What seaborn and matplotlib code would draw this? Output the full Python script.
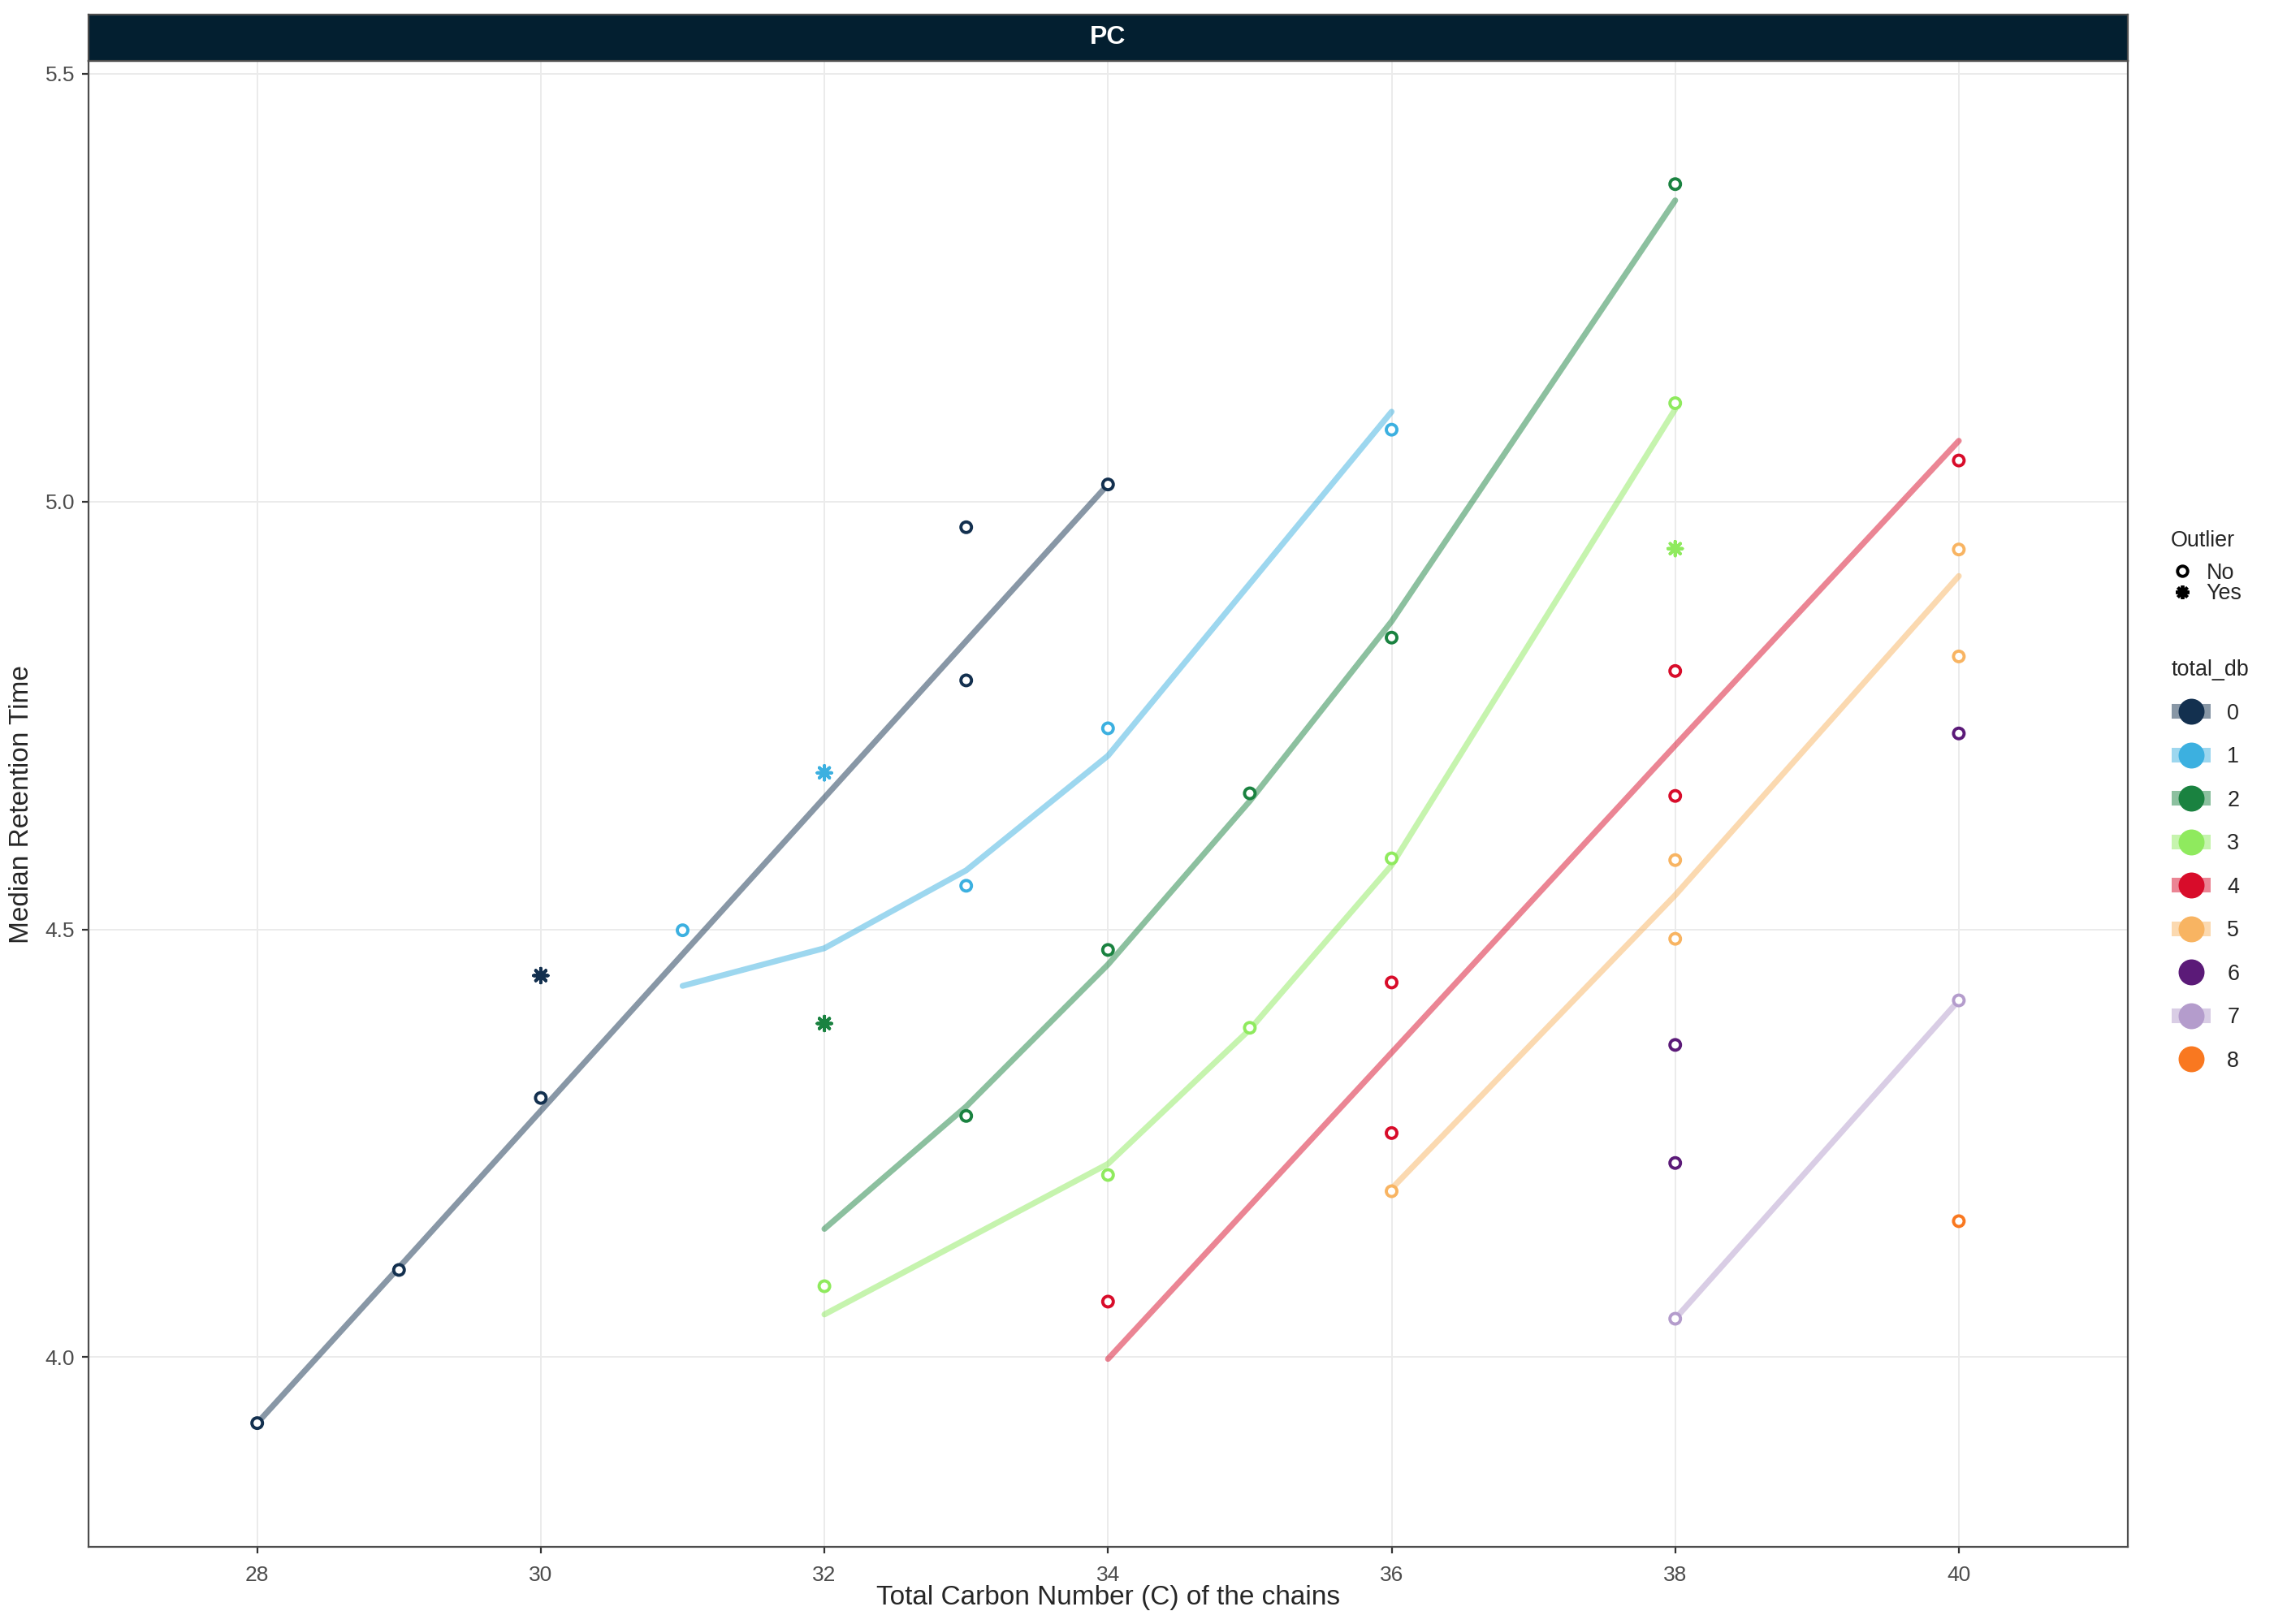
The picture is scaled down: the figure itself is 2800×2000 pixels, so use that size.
import numpy as np
import pandas as pd
import matplotlib
matplotlib.use("Agg")
import matplotlib.pyplot as plt
from matplotlib.lines import Line2D
from matplotlib.legend_handler import HandlerTuple
import seaborn as sns

# measured points (carbon number, double bonds, median RT, outlier flag)
pt_carbon = [28, 29, 30, 30, 33, 33, 34,
             31, 32, 33, 34, 36,
             32, 33, 34, 35, 36, 38,
             32, 34, 35, 36, 38, 38,
             34, 36, 36, 38, 38, 40,
             36, 38, 38, 40, 40,
             38, 38, 40,
             38, 40,
             40]
pt_db = [0] * 7 + [1] * 5 + [2] * 6 + [3] * 6 + [4] * 6 + [5] * 5 + [6] * 3 + [7] * 2 + [8]
pt_rt = [3.923, 4.102, 4.303, 4.446, 4.970, 4.791, 5.020,
         4.499, 4.683, 4.551, 4.735, 5.084,
         4.390, 4.282, 4.476, 4.659, 4.841, 5.371,
         4.083, 4.213, 4.385, 4.583, 5.115, 4.945,
         4.065, 4.438, 4.262, 4.802, 4.656, 5.048,
         4.194, 4.581, 4.489, 4.944, 4.819,
         4.365, 4.227, 4.729,
         4.045, 4.417,
         4.159]
pt_outlier = ["No", "No", "No", "Yes", "No", "No", "No",
              "No", "Yes", "No", "No", "No",
              "Yes", "No", "No", "No", "No", "No",
              "No", "No", "No", "No", "No", "Yes",
              "No", "No", "No", "No", "No", "No",
              "No", "No", "No", "No", "No",
              "No", "No", "No",
              "No", "No",
              "No"]

# fitted trend values per double-bond group
fit_carbon = [28, 29, 30, 33, 34,
              31, 32, 33, 34, 36,
              32, 33, 34, 35, 36, 38,
              32, 34, 35, 36, 38,
              34, 36, 38, 40,
              36, 38, 40,
              38, 40]
fit_db = [0] * 5 + [1] * 5 + [2] * 6 + [3] * 5 + [4] * 4 + [5] * 3 + [7] * 2
fit_rt = [3.923, 4.105, 4.288, 4.837, 5.020,
          4.434, 4.478, 4.569, 4.703, 5.105,
          4.150, 4.293, 4.459, 4.650, 4.860, 5.352,
          4.050, 4.226, 4.383, 4.575, 5.108,
          3.998, 4.356, 4.715, 5.071,
          4.197, 4.540, 4.913,
          4.045, 4.417]

db_levels = [0, 1, 2, 3, 4, 5, 6, 7, 8]
db_colors = ["#13304f", "#3cb0e0", "#1a8240", "#8fea5e", "#d80c2a",
             "#f8b462", "#5b1a78", "#b49ccc", "#f97820"]
palette = dict(zip(db_levels, db_colors))

points = pd.DataFrame({"carbon": pt_carbon, "total_db": pt_db,
                       "rt": pt_rt, "Outlier": pt_outlier})
fits = pd.DataFrame({"carbon": fit_carbon, "total_db": fit_db, "rt": fit_rt})

sns.set_style("white")
plt.rcParams["font.family"] = ["Liberation Sans", "DejaVu Sans"]

fig = plt.figure(figsize=(14, 10), dpi=200)
ax = fig.add_axes([0.0389, 0.0473, 0.8967, 0.9152])

sns.lineplot(data=fits, x="carbon", y="rt", hue="total_db", palette=palette,
             alpha=0.5, lw=2.6, legend=False, ax=ax, zorder=2)

normal = points[points["Outlier"] == "No"]
outl = points[points["Outlier"] == "Yes"]
sns.scatterplot(data=normal, x="carbon", y="rt", hue="total_db", palette=palette,
                marker="o", s=22, legend=False, ax=ax, zorder=3)
circles = ax.collections[-1]
circles.set_edgecolors(circles.get_facecolors())
circles.set_facecolors("white")
circles.set_linewidths(1.4)
sns.scatterplot(data=outl, x="carbon", y="rt", hue="total_db", palette=palette,
                marker=(8, 2, 0), s=40, linewidth=1.4, legend=False, ax=ax, zorder=3)

ax.set_xlim(26.81, 41.19)
ax.set_ylim(3.778, 5.515)
ax.set_xticks([28, 30, 32, 34, 36, 38, 40])
ax.set_yticks([4.0, 4.5, 5.0, 5.5])
ax.set_yticklabels(["4.0", "4.5", "5.0", "5.5"])
ax.grid(True, color="#ebebeb", lw=0.7)
ax.set_axisbelow(True)
for sp in ax.spines.values():
    sp.set_color("#4d4d4d")
    sp.set_linewidth(0.8)
ax.tick_params(axis="both", direction="out", length=3, width=0.8, color="#333333",
               labelsize=9.5, labelcolor="#4d4d4d", pad=3, left=True, bottom=True)
ax.tick_params(axis="x", pad=5)
ax.set_xlabel("Total Carbon Number (C) of the chains", fontsize=12, labelpad=0)
ax.set_ylabel("Median Retention Time", fontsize=12, labelpad=5)

# facet strip
strip = fig.add_axes([0.0389, 0.9625, 0.8967, 0.0285])
strip.set_facecolor("#031f30")
strip.set_xticks([])
strip.set_yticks([])
for sp in strip.spines.values():
    sp.set_color("#4d4d4d")
    sp.set_linewidth(0.8)
strip.text(0.5, 0.5, "PC", color="white", fontsize=11.5, fontweight="bold",
           ha="center", va="center", transform=strip.transAxes)

# legends
fig.text(0.9547, 0.6670, "Outlier", fontsize=9.7, ha="left", va="center")
out_handles = [Line2D([], [], ls="", marker="o", ms=4.5, mfc="white", mec="black", mew=1.4),
               Line2D([], [], ls="", marker=(8, 2, 0), ms=6, mec="black", mew=1.4)]
leg1 = fig.legend(out_handles, ["No", "Yes"], loc="upper left",
                  bbox_to_anchor=(0.950, 0.659), frameon=False, fontsize=9.7,
                  labelspacing=-0.02, handlelength=1.2,
                  handletextpad=0.5, borderaxespad=0)

line_groups = set(fit_db)
db_handles = []
for lvl, col in zip(db_levels, db_colors):
    dot = Line2D([], [], ls="", marker="o", ms=10.5, color=col)
    if lvl in line_groups:
        bar = Line2D([], [], color=col, alpha=0.5, lw=6.5, solid_capstyle="butt")
        db_handles.append((bar, dot))
    else:
        db_handles.append(dot)
leg2 = fig.legend(db_handles, [str(l) for l in db_levels], title="total_db",
                  loc="upper left", bbox_to_anchor=(0.951, 0.5993), frameon=False,
                  fontsize=9.7, title_fontsize=9.7, labelspacing=1.02, handlelength=1.8,
                  handletextpad=0.75, alignment="left", borderaxespad=0,
                  handler_map={tuple: HandlerTuple(ndivide=1)})

fig.savefig("out.png", dpi=200)
